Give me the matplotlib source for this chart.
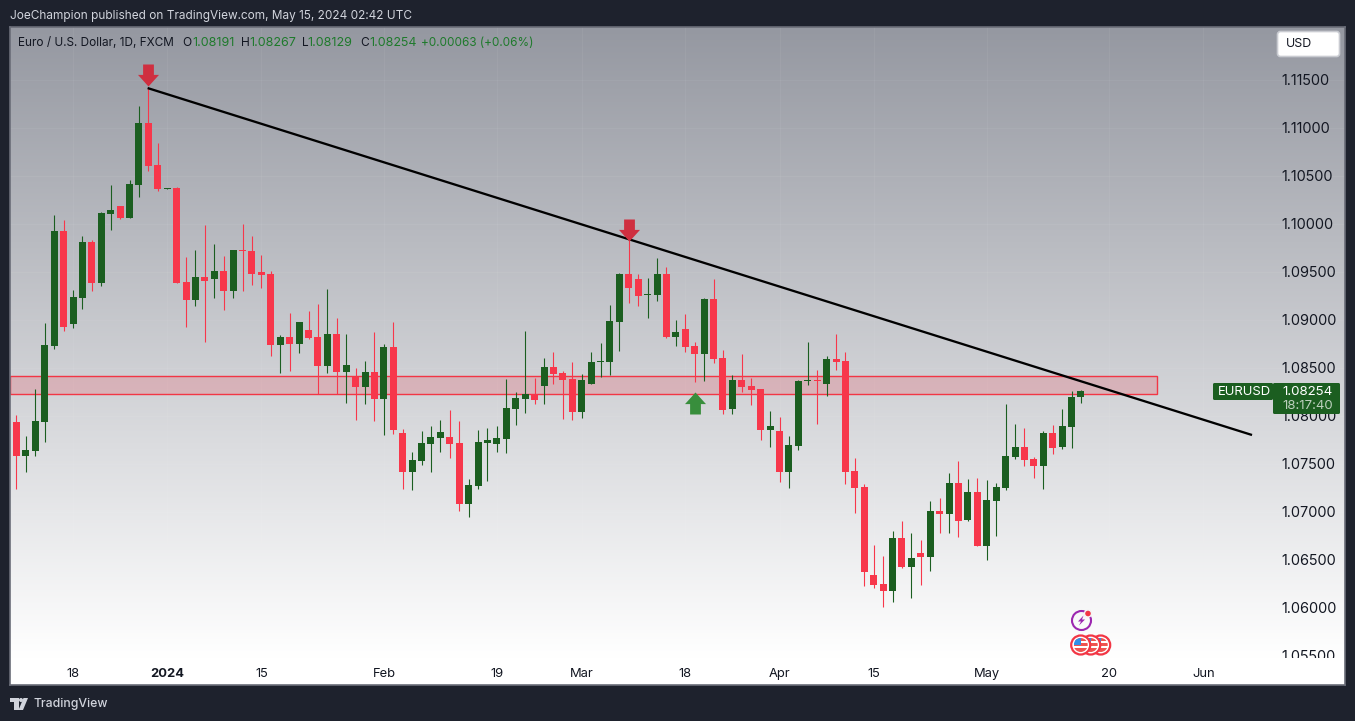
import numpy as np
import pandas as pd
import matplotlib
matplotlib.use("Agg")
import matplotlib.pyplot as plt
from matplotlib.patches import Rectangle, Circle, Polygon, FancyBboxPatch
from matplotlib.transforms import Bbox

opens = [1.07932,1.07578,1.07630,1.07932,1.08724,1.09922,1.08953,1.09224,1.09807,1.09380,
1.10099,1.10182,1.10057,1.10401,1.11047,1.10609,1.10359,1.10370,1.09391,1.09203,
1.09443,1.09422,1.09505,1.09297,1.09724,1.09714,1.09495,1.09474,1.08734,1.08818,
1.08745,1.08891,1.08818,1.08516,1.08849,1.08453,1.08401,1.08297,1.08453,1.08172,
1.08714,1.07818,1.07411,1.07526,1.07703,1.07766,1.07776,1.07714,1.07078,1.07266,
1.07714,1.07703,1.07755,1.08068,1.08172,1.08224,1.08307,1.08505,1.08443,1.08380,
1.08036,1.08328,1.08557,1.08557,1.08974,1.09474,1.09422,1.09255,1.09255,1.09474,
1.08818,1.08901,1.08724,1.08641,1.09214,1.08599,1.08068,1.08370,1.08307,1.08276,
1.07849,1.07839,1.07411,1.07682,1.08359,1.08370,1.08328,1.08589,1.08568,1.07422,
1.07255,1.06339,1.06245,1.06172,1.06724,1.06422,1.06568,1.06526,1.07005,1.06974,
1.07297,1.06911,1.07203,1.06641,1.07109,1.07245,1.07568,1.07672,1.07547,1.07474,
1.07818,1.07672,1.07880,1.08191]
highs = [1.08005,1.07786,1.08276,1.08963,1.10089,1.10036,1.09307,1.09870,1.09828,1.10120,
1.10401,1.10182,1.10453,1.11224,1.11411,1.10838,1.10370,1.10380,1.09651,1.09724,
1.09984,1.09786,1.09661,1.09724,1.09995,1.09870,1.09672,1.09505,1.08839,1.09068,
1.08974,1.09088,1.09161,1.09318,1.09016,1.08849,1.08495,1.08568,1.08870,1.08745,
1.08974,1.07859,1.07620,1.07839,1.07891,1.07953,1.08057,1.07943,1.07339,1.07849,
1.07870,1.07891,1.08380,1.08245,1.08880,1.08391,1.08599,1.08661,1.08463,1.08557,
1.08432,1.08661,1.08755,1.09151,1.09484,1.09849,1.09474,1.09432,1.09641,1.09547,
1.08995,1.09057,1.08766,1.09224,1.09422,1.08682,1.08422,1.08641,1.08391,1.08276,
1.08047,1.07984,1.07786,1.08370,1.08766,1.08474,1.08620,1.08849,1.08661,1.07557,
1.07286,1.06651,1.06536,1.06797,1.06901,1.06776,1.06703,1.07109,1.07141,1.07401,
1.07526,1.07339,1.07349,1.07328,1.07297,1.08120,1.07911,1.07870,1.07568,1.07839,
1.07901,1.08068,1.08255,1.08267]
lows = [1.07234,1.07411,1.07578,1.07724,1.08693,1.08880,1.08911,1.09109,1.09297,1.09349,
1.09932,1.10047,1.10057,1.10276,1.10547,1.10338,1.10359,1.09380,1.08922,1.09140,
1.08766,1.09224,1.09099,1.09224,1.09297,1.09359,1.09328,1.08620,1.08443,1.08463,
1.08651,1.08797,1.08224,1.08443,1.08224,1.08130,1.07953,1.08120,1.07943,1.07797,
1.07807,1.07234,1.07224,1.07484,1.07411,1.07620,1.07557,1.07005,1.06943,1.07234,
1.07318,1.07620,1.07609,1.07901,1.08026,1.08120,1.08120,1.08328,1.07964,1.07953,
1.07974,1.08328,1.08401,1.08422,1.08672,1.09172,1.09140,1.09016,1.09193,1.08807,
1.08724,1.08661,1.08349,1.08359,1.08547,1.08016,1.08016,1.08245,1.08109,1.07745,
1.07672,1.07307,1.07245,1.07641,1.08318,1.07911,1.08203,1.08474,1.07286,1.06984,
1.06224,1.06203,1.06005,1.06057,1.06411,1.06099,1.06234,1.06380,1.06776,1.06776,
1.06734,1.06901,1.06641,1.06495,1.06745,1.07224,1.07547,1.07474,1.07349,1.07234,
1.07599,1.07651,1.07661,1.08129]
closes = [1.07578,1.07641,1.07943,1.08734,1.09922,1.08922,1.09234,1.09807,1.09380,1.10109,
1.10141,1.10057,1.10411,1.11047,1.10599,1.10359,1.10370,1.09380,1.09203,1.09443,
1.09401,1.09505,1.09297,1.09724,1.09714,1.09474,1.09463,1.08734,1.08818,1.08745,
1.08974,1.08807,1.08516,1.08849,1.08453,1.08526,1.08297,1.08453,1.08172,1.08714,
1.07849,1.07411,1.07536,1.07714,1.07776,1.07828,1.07703,1.07078,1.07276,1.07724,
1.07745,1.07766,1.08078,1.08182,1.08224,1.08161,1.08505,1.08432,1.08370,1.08036,
1.08370,1.08557,1.08568,1.08984,1.09474,1.09328,1.09245,1.09266,1.09474,1.08818,
1.08870,1.08714,1.08641,1.09214,1.08589,1.08057,1.08370,1.08297,1.08266,1.07849,
1.07891,1.07411,1.07693,1.08359,1.08370,1.08359,1.08589,1.08557,1.07411,1.07245,
1.06370,1.06234,1.06172,1.06724,1.06422,1.06516,1.06526,1.07005,1.06974,1.07297,
1.06901,1.07203,1.06641,1.07120,1.07255,1.07578,1.07672,1.07536,1.07474,1.07818,
1.07661,1.07891,1.08193,1.08254]

price_ticks = [1.055,1.06,1.065,1.07,1.075,1.08,1.085,1.09,1.095,1.10,1.105,1.11,1.115]
time_tick_pos = [6,16,26,39,51,60,71,81,91,103,116,126]
time_tick_labels = ["18","2024","15","Feb","19","Mar","18","Apr","15","May","20","Jun"]
zone_prices = [1.08219,1.08411]
zone_end = 121.07
trend_x = [13.92,131.16]
trend_y = [1.11411,1.07797]
down_arrows_x = [14.01,65.02]
down_arrows_y = [1.11547,1.09937]
up_arrow_x = [72.06]
up_arrow_y = [1.08130]

GREEN = "#1b5e20"
RED = "#f7374b"
FONT = "Inter"
PANEL = (10,27,1345,685)

W,H = 1355,721
fig = plt.figure(figsize=(W/100,H/100),dpi=100,facecolor="#1e222d")
px = 0.72  # points per pixel

def frac(l,t,r,b):
    return [l/W,1-b/H,(r-l)/W,(b-t)/H]

ax = fig.add_axes(frac(*PANEL))
ax.set_xlim(-0.69,141.03)
ax.set_ylim(1.05193,1.12047)

# gradient background
ys = np.linspace(0,1,256).reshape(-1,1)
top = np.array([0x95,0x98,0xa1])/255
rows = np.clip(ys/(631/658),0,1)
img = top*(1-rows)+rows
ax.imshow(img[:, None, :].reshape(256,1,3),extent=[-0.69,141.03,1.05193,1.12047],
          aspect="auto",origin="upper",zorder=0)
ax.set_xlim(-0.69,141.03)
ax.set_ylim(1.05193,1.12047)

ax.set_yticks(price_ticks)
ax.set_yticklabels([f"{p:.5f}" for p in price_ticks])
ax.set_xticks(time_tick_pos)
ax.set_xticklabels(time_tick_labels)
ax.yaxis.tick_right()
ax.tick_params(axis="y",length=0,pad=-63.5*px,labelsize=10.4,labelcolor="#131722")
ax.tick_params(axis="x",length=0,pad=-17*px,labelsize=9.3,labelcolor="#131722")
for lab in ax.get_xticklabels()+ax.get_yticklabels():
    lab.set_fontfamily(FONT)
ax.get_xticklabels()[1].set_fontweight("bold")
clip = Bbox([[0,H-658],[W,H]])
for t in ax.yaxis.get_major_ticks():
    t.label2.set_clip_on(True)
    t.label2.set_clip_box(clip)
ax.grid(True,color="white",alpha=0.05,lw=0.8,zorder=1)
ax.set_axisbelow(True)
for s in ax.spines.values():
    s.set_color("#6a6d78")
    s.set_linewidth(1.2)

# supply/demand zone
ax.add_patch(Rectangle((-0.69,zone_prices[0]),zone_end+0.69,zone_prices[1]-zone_prices[0],
             facecolor="#f23645",alpha=0.2,edgecolor="none",zorder=2))
ax.add_patch(Rectangle((-0.69,zone_prices[0]),zone_end+0.69,zone_prices[1]-zone_prices[0],
             facecolor="none",edgecolor="#f23645",lw=1.0,zorder=2.1))

# candles
df = pd.DataFrame(dict(o=opens,h=highs,l=lows,c=closes))
idx = df.index.values
colors = [GREEN if c>=o else RED for o,c in zip(df.o,df.c)]
ax.vlines(idx,df.l,df.h,colors=colors,lw=1.1*px,zorder=3)
bottoms = df[["o","c"]].min(axis=1)
heights = np.maximum((df.o-df.c).abs(),0.00011)
ax.bar(idx,heights,bottom=bottoms,width=0.743,color=colors,linewidth=0,zorder=3.2)

# trendline
ax.plot(trend_x,trend_y,color="#000000",lw=2.3*px,solid_capstyle="butt",zorder=4)

# arrows
down = [(-2.7,5.5),(2.7,5.5),(2.7,0.3),(5.25,0.3),(0,-5.5),(-5.25,0.3),(-2.7,0.3),(-2.7,5.5)]
up = [(x,-y) for x,y in down]
ax.plot(down_arrows_x,down_arrows_y,ls="none",marker=down,ms=22*px,color="#cf2f40",mew=0,zorder=5)
ax.plot(up_arrow_x,up_arrow_y,ls="none",marker=up,ms=22*px,color="#388e3c",mew=0,zorder=5)

# pixel overlay for the interface furniture
ov = fig.add_axes([0,0,1,1],facecolor="none")
ov.set_xlim(0,W); ov.set_ylim(H,0); ov.axis("off")

ov.text(10,15.5,"JoeChampion published on TradingView.com, May 15, 2024 02:42 UTC",
        color="#d1d4dc",fontsize=8.5,family=FONT,va="center")

LY = 43
DG = "#1f7a2c"
ov.text(18,LY,"Euro / U.S. Dollar, 1D, FXCM",color="#131722",fontsize=8.5,family=FONT,va="center")
for x,s,c,fs in [(182,"O","#131722",8.6),(192,"1.08191",DG,9),(241,"H","#131722",8.6),(249,"1.08267",DG,9),
                 (302,"L","#131722",8.6),(307.5,"1.08129",DG,9),(360,"C","#131722",8.6),(369,"1.08254",DG,9),
                 (421,"+0.00063 (+0.06%)",DG,8.45)]:
    ov.text(x,LY,s,color=c,fontsize=fs,family=FONT,va="center")

# USD button
ov.add_patch(FancyBboxPatch((1277.5,31.5),62,25,boxstyle="round,pad=0,rounding_size=3",
             facecolor="white",edgecolor="#c9cbd1",lw=1.2))
ov.text(1286,44,"USD",color="#131722",fontsize=8.9,family=FONT,va="center")

# last price tag
ov.add_patch(FancyBboxPatch((1213,383),60,17,boxstyle="round,pad=0,rounding_size=1.5",
             facecolor=GREEN,edgecolor="none"))
ov.add_patch(FancyBboxPatch((1273,383),67,31,boxstyle="round,pad=0,rounding_size=1.5",
             facecolor=GREEN,edgecolor="none"))
ov.text(1218,392,"EURUSD",color="white",fontsize=9.4,family=FONT,va="center")
ov.text(1282,392,"1.08254",color="white",fontsize=9.6,family=FONT,va="center")
ov.text(1282,406,"18:17:40",color="#bcd0bd",fontsize=9.5,family=FONT,va="center")

# event icons
def flag(cx,cy,z):
    ring = Circle((cx,cy),9.5,facecolor="white",edgecolor="#f23645",lw=1.6,zorder=z)
    ov.add_patch(ring)
    inner = Circle((cx,cy),7,transform=ov.transData)
    for y0,h,col in [(cy-7,3,"#ef5350"),(cy-2,3,"#ef5350"),(cy+3,4,"#ef5350")]:
        r = Rectangle((cx-7,y0),14,h,facecolor=col,edgecolor="none",zorder=z+.1)
        ov.add_patch(r); r.set_clip_path(inner)
    b = Rectangle((cx-7,cy-7),7,7,facecolor="#2f8fe8",edgecolor="none",zorder=z+.2)
    ov.add_patch(b); b.set_clip_path(inner)
flag(1100.7,645,6); flag(1090.7,645,7); flag(1080.7,645,8)
ov.add_patch(Circle((1081.5,620.5),9.5,facecolor="none",edgecolor="#9c27b0",lw=1.5,zorder=6))
ov.add_patch(Circle((1088,613.5),3.5,facecolor="#f23645",edgecolor="#f5f5f5",lw=1,zorder=7))
ov.add_patch(Polygon([(1083.5,615.5),(1078,621.5),(1081,621.5),(1079,625.5),(1085,619.5),(1082,619.5)],
             facecolor="#9c27b0",edgecolor="none",zorder=7))

# footer logo
LOGO = "#d1d4dc"
ov.add_patch(Polygon([(10,698),(18.5,698),(18.5,710),(14,710),(14,702),(10,702)],facecolor=LOGO,edgecolor="none"))
ov.add_patch(Circle((21,700),2,facecolor=LOGO,edgecolor="none"))
ov.add_patch(Polygon([(23.5,698),(28,698),(23,710),(18.5,710)],facecolor=LOGO,edgecolor="none"))
ov.text(33,704.5,"TradingView",color=LOGO,fontsize=8.8,family=FONT,weight="medium",va="center")

fig.savefig("out.png",dpi=100,facecolor=fig.get_facecolor())
